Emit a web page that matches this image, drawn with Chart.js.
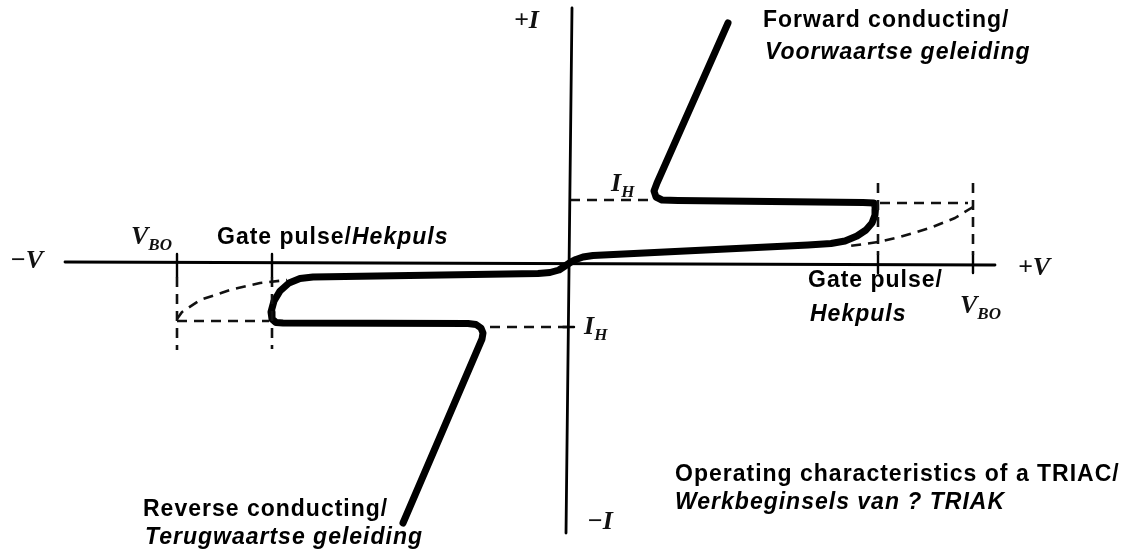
<!DOCTYPE html>
<html>
<head>
<meta charset="utf-8">
<title>TRIAC characteristics</title>
<script src="https://cdn.jsdelivr.net/npm/chart.js@4"></script>
<style>
    html, body { margin: 0; padding: 0; background: #ffffff; }
    #wrap { position: relative; width: 1123px; height: 553px; overflow: hidden; }
    #triacChart { position: absolute; left: 0; top: 0; }

    /* Annotation labels */
    .lbl {
        position: absolute;
        white-space: nowrap;
        font-family: "Liberation Sans", Arial, sans-serif;
        font-size: 23px;
        line-height: 23px;
        font-weight: bold;
        letter-spacing: 1px;
        color: #000;
    }
    .lbl i { font-style: italic; }
    .sym {
        position: absolute;
        white-space: nowrap;
        font-family: "Liberation Serif", "Times New Roman", serif;
        font-style: italic;
        font-weight: bold;
        font-size: 26px;
        line-height: 26px;
        color: #111;
    }
    .sym sub { font-size: 17px; vertical-align: -6px; }
</style>
</head>
<body>
<div id="wrap">
    <canvas id="triacChart" width="1123" height="553"></canvas>

    <div class="lbl" style="left:763px; top:8px;">Forward conducting/</div>
    <div class="lbl" style="left:765px; top:40px;"><i>Voorwaartse geleiding</i></div>

    <div class="lbl" style="left:217px; top:225px;">Gate pulse/<i>Hekpuls</i></div>

    <div class="lbl" style="left:808px; top:268px;">Gate pulse/</div>
    <div class="lbl" style="left:810px; top:302px;"><i>Hekpuls</i></div>

    <div class="lbl" style="left:143px; top:497px;">Reverse conducting/</div>
    <div class="lbl" style="left:145px; top:525px;"><i>Terugwaartse geleiding</i></div>

    <div class="lbl" style="left:675px; top:462px;">Operating characteristics of a TRIAC/</div>
    <div class="lbl" style="left:675px; top:490px;"><i>Werkbeginsels van ? TRIAK</i></div>

    <div class="sym" style="left:514px; top:7px;">+I</div>
    <div class="sym" style="left:10px; top:247px;">&minus;V</div>
    <div class="sym" style="left:1018px; top:254px;">+V</div>
    <div class="sym" style="left:587px; top:508px;">&minus;I</div>
    <div class="sym" style="left:611px; top:170px;">I<sub>H</sub></div>
    <div class="sym" style="left:584px; top:313px;">I<sub>H</sub></div>
    <div class="sym" style="left:960px; top:292px;">V<sub>BO</sub></div>
    <div class="sym" style="left:131px; top:223px;">V<sub>BO</sub></div>
</div>

<script>
/* ===============================================
   DATA  (V, I) pairs, origin at the axis crossing
   =============================================== */

// Visible range of the drawing
const vRange = [-56.8, 55.5];
const iRange = [-29.0, 26.3];

// Axes
const vAxis = [[-50.3, 0.1], [42.7, -0.2]];
const iAxis = [[0.4, 25.5], [-0.2, -27.0]];

// Main characteristic: forward branch -> origin -> reverse branch
const characteristic = [
    [16.0, 24.0], [8.9, 8.0], [8.6, 7.2], [8.8, 6.6], [9.4, 6.3], [11.0, 6.25],
    [29.5, 6.05], [30.6, 6.0], [30.75, 5.4], [30.7, 4.8], [30.4, 4.0], [29.8, 3.3],
    [28.9, 2.7], [27.7, 2.2], [26.3, 1.95], [24.0, 1.8],
    [2.5, 0.75], [1.5, 0.6], [0.8, 0.35], [0.3, 0.1], [-0.3, -0.3], [-0.9, -0.7],
    [-1.8, -0.95], [-3.0, -1.05],
    [-25.5, -1.4], [-26.8, -1.55], [-27.9, -2.0], [-28.8, -2.8], [-29.4, -3.8],
    [-29.7, -4.9], [-29.6, -5.6], [-29.2, -5.95], [-28.5, -6.0],
    [-10.0, -6.05], [-9.2, -6.15], [-8.7, -6.5], [-8.5, -7.0], [-8.6, -7.6],
    [-16.5, -26.0]
];

// Holding current and breakover guide lines (dashed)
const holdUpperLeft = [[0.2, 6.3], [8.2, 6.3]];
const holdUpperRight = [[31.2, 6.0], [40.0, 6.0]];
const holdLowerLeft = [[-39.1, -5.8], [-29.9, -5.8]];
const holdLowerRight = [[-7.8, -6.4], [0.7, -6.4]];

const breakoverRight = [[40.5, 5.6], [38.7, 4.5], [36.2, 3.5], [33.2, 2.6], [31.0, 2.1], [28.2, 1.7]];
const breakoverLeft = [[-39.1, -5.6], [-38.6, -4.9], [-36.8, -3.7], [-33.8, -2.7], [-30.8, -2.0], [-28.1, -1.7]];

const gateRightV = [[31.0, 8.0], [31.0, 0.8]];
const vboRightV = [[40.5, 8.0], [40.5, 0.8]];
const gateLeftV = [[-29.6, -1.4], [-29.6, -8.6]];
const vboLeftV = [[-39.1, -1.4], [-39.1, -8.7]];

// Short solid ticks where the guide lines cross the axes
const tickMarks = [
    [[31.0, 0.8], [31.0, -1.0]],
    [[40.5, 0.8], [40.5, -1.0]],
    [[-29.6, 0.9], [-29.6, -1.4]],
    [[-39.1, 0.9], [-39.1, -1.4]],
    [[-0.5, -6.4], [0.6, -6.4]]
];

/* ===============================================
   CHART
   =============================================== */

const toPoints = pairs => pairs.map(p => ({ x: p[0], y: p[1] }));

function solid(pairs, width) {
    return {
        data: toPoints(pairs),
        showLine: true,
        borderColor: '#000000',
        borderWidth: width,
        borderCapStyle: 'round',
        borderJoinStyle: 'round',
        pointRadius: 0,
        tension: 0,
        fill: false
    };
}

function dashed(pairs) {
    const ds = solid(pairs, 2.6);
    ds.borderDash = [10, 7];
    ds.borderCapStyle = 'butt';
    ds.borderColor = '#111111';
    return ds;
}

const datasets = [
    solid(vAxis, 2.8),
    solid(iAxis, 2.8),
    dashed(holdUpperLeft),
    dashed(holdUpperRight),
    dashed(holdLowerLeft),
    dashed(holdLowerRight),
    dashed(breakoverRight),
    dashed(breakoverLeft),
    dashed(gateRightV),
    dashed(vboRightV),
    dashed(gateLeftV),
    dashed(vboLeftV),
    ...tickMarks.map(t => solid(t, 2.4)),
    solid(characteristic, 7)
];

new Chart(document.getElementById('triacChart'), {
    type: 'scatter',
    data: { datasets: datasets },
    options: {
        responsive: false,
        animation: false,
        devicePixelRatio: 1,
        layout: { padding: 0 },
        plugins: {
            legend: { display: false },
            tooltip: { enabled: false }
        },
        scales: {
            x: { type: 'linear', min: vRange[0], max: vRange[1], display: false },
            y: { type: 'linear', min: iRange[0], max: iRange[1], display: false }
        }
    }
});
</script>
</body>
</html>
